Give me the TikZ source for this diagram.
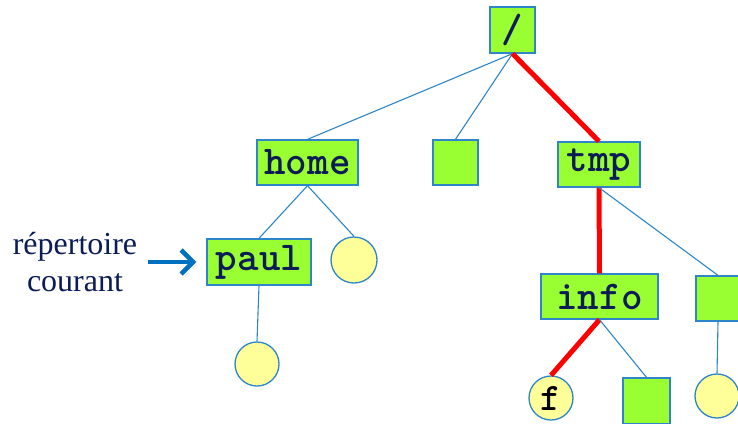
\documentclass[tikz,border=0pt]{standalone}
\usepackage{fontspec}
\setmainfont{Liberation Serif}
\newfontfamily\codefont{lmmonolt10-bold.otf}
\usetikzlibrary{arrows.meta}
\definecolor{boxgreen}{RGB}{153,255,51}
\definecolor{edgeblue}{RGB}{46,134,200}
\definecolor{circyellow}{RGB}{255,255,153}
\definecolor{pathred}{RGB}{255,0,0}
\definecolor{arrowblue}{RGB}{0,112,192}
\definecolor{navy}{RGB}{12,28,86}
\tikzset{
  dirbox/.style={draw=edgeblue, line width=1.3pt, fill=boxgreen, rectangle, inner sep=0pt,
    text=navy, font=\codefont\fontsize{41}{41}\selectfont},
  filecirc/.style={draw=edgeblue, line width=1.3pt, fill=circyellow, circle, inner sep=0pt,
    text=black, font=\codefont\fontsize{39}{39}\selectfont},
  link/.style={draw=edgeblue, line width=1.1pt},
  hot/.style={draw=pathred, line width=5pt},
}
\begin{document}
\begin{tikzpicture}[x=1pt,y=-1pt]
\useasboundingbox (0,0) rectangle (738,423);
% nodes
\node[dirbox, minimum width=45pt, minimum height=46pt] (root) at (512.5,30) {/};
\node[dirbox, minimum width=101pt, minimum height=45pt] (home) at (307.5,162.5) {home};
\node[dirbox, minimum width=45pt, minimum height=45pt] (mid) at (455.5,162.5) {};
\node[dirbox, minimum width=82pt, minimum height=45pt] (tmp) at (599,164.5) {tmp};
\node[dirbox, minimum width=104pt, minimum height=46pt] (paul) at (259,262) {paul};
\node[filecirc, minimum size=46pt] (c1) at (354,260) {};
\node[filecirc, minimum size=44pt] (c2) at (257,364) {};
\node[dirbox, minimum width=117pt, minimum height=45pt] (info) at (599.5,296.5) {info};
\node[dirbox, minimum width=44pt, minimum height=45pt] (sqr) at (718,298.5) {};
\node[filecirc, minimum size=44pt] (f) at (551,398) {f};
\node[dirbox, minimum width=47pt, minimum height=46pt] (sqs) at (646.5,401) {};
\node[filecirc, minimum size=44pt] (c3) at (717,396) {};
\node[text=navy, font=\fontsize{32}{37}\selectfont, align=center] (lbl) at (75,262) {répertoire\\courant};
\coordinate (arrS) at (148,262);
% edges
\draw[link] (root.south) -- (home.north);
\draw[link] (root.south) -- (mid.north);
\draw[hot] (root.south) -- (tmp.north);
\draw[link] (home.south) -- (paul.north);
\draw[link] (home.south) -- (c1.north);
\draw[link] (paul.south) -- (c2.north);
\draw[hot] (tmp.south) -- (info.north);
\draw[link] (tmp.south) -- (sqr.north);
\draw[hot] (info.south) -- (f.north);
\draw[link] (info.south) -- (sqs.north);
\draw[link] (sqr.south) -- (c3.north);
\draw[draw=arrowblue, line width=4.5pt, -{Straight Barb[length=12pt,width=24pt,line width=4.5pt]}, shorten >=10pt] (arrS) -- (paul.west);
\end{tikzpicture}
\end{document}
